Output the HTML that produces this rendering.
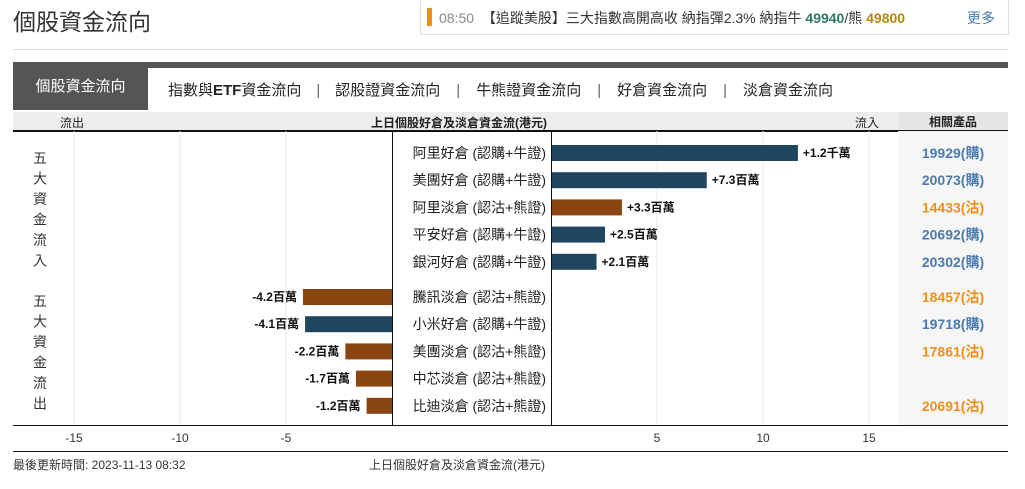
<!DOCTYPE html>
<html><head><meta charset="utf-8"><style>
body{margin:0;width:1025px;height:489px;background:#fff;font-family:"Liberation Sans","Noto Sans CJK TC",sans-serif;position:relative;overflow:hidden}
.abs{position:absolute}
</style></head><body>
<div class="abs" style="left:13px;top:3px;font-size:23px;color:#333">個股資金流向</div>
<div class="abs" style="left:420px;top:0;width:587px;height:34px;border:1px solid #ddd;border-top:none;font-size:14px;color:#333">
 <div class="abs" style="left:6px;top:8px;width:5px;height:18px;background:#e8901a"></div>
 <div class="abs" style="left:18px;top:8px;white-space:nowrap"><span style="color:#888">08:50</span>&nbsp;&nbsp;【追蹤美股】三大指數高開高收 納指彈2.3% 納指牛 <b style="color:#2a7a6a">49940</b>/熊 <b style="color:#b8860b">49800</b></div>
 <div class="abs" style="left:546px;top:8px;color:#4a7bb0">更多</div>
</div>
<div class="abs" style="left:13px;top:49px;width:995px;height:1px;background:#ddd"></div>
<div class="abs" style="left:13px;top:62px;width:995px;height:6px;background:#555"></div>
<div class="abs" style="left:13px;top:62px;width:135px;height:48px;background:#555;color:#fff;font-size:15px;line-height:50px;text-align:center">個股資金流向</div>
<div class="abs" style="left:168px;top:79px;font-size:15px;color:#222;white-space:nowrap;word-spacing:0">
<span>指數與<b>ETF</b>資金流向</span><span style="margin:0 15px;color:#666">|</span><span>認股證資金流向</span><span style="margin:0 16px;color:#666">|</span><span>牛熊證資金流向</span><span style="margin:0 16px;color:#666">|</span><span>好倉資金流向</span><span style="margin:0 16px;color:#666">|</span><span>淡倉資金流向</span></div>
<div class="abs" style="left:13px;top:112px;width:995px;height:18px;background:#eee;border-bottom:2px solid #111;font-size:12px;font-weight:bold;color:#222">
 <span class="abs" style="left:47px;top:2px;font-weight:normal">流出</span>
 <span class="abs" style="left:358px;top:2px">上日個股好倉及淡倉資金流(港元)</span>
 <span class="abs" style="left:842px;top:2px;font-weight:normal">流入</span>
 <span class="abs" style="left:885px;top:0;width:110px;height:18px;background:#e6e6e6;text-align:center;line-height:20px">相關產品</span>
</div>
<svg class="abs" style="left:0;top:0" width="1025" height="489" id="chart"></svg>
<div class="abs" style="left:13px;top:456px;font-size:12px;color:#333">最後更新時間: 2023-11-13 08:32</div>
<div class="abs" style="left:369px;top:456px;font-size:12px;color:#333">上日個股好倉及淡倉資金流(港元)</div>
<script>
const inNames=["阿里好倉 (認購+牛證)","美團好倉 (認購+牛證)","阿里淡倉 (認沽+熊證)","平安好倉 (認購+牛證)","銀河好倉 (認購+牛證)"];
const inValues=[11.6,7.3,3.3,2.5,2.1];
const inLabels=["+1.2千萬","+7.3百萬","+3.3百萬","+2.5百萬","+2.1百萬"];
const inTypes=["bull","bull","bear","bull","bull"];
const inProducts=["19929(購)","20073(購)","14433(沽)","20692(購)","20302(購)"];
const outNames=["騰訊淡倉 (認沽+熊證)","小米好倉 (認購+牛證)","美團淡倉 (認沽+熊證)","中芯淡倉 (認沽+熊證)","比迪淡倉 (認沽+熊證)"];
const outValues=[-4.2,-4.1,-2.2,-1.7,-1.2];
const outLabels=["-4.2百萬","-4.1百萬","-2.2百萬","-1.7百萬","-1.2百萬"];
const outTypes=["bear","bull","bear","bear","bear"];
const outProducts=["18457(沽)","19718(購)","17861(沽)","","20691(沽)"];
const leftTicks=[-15,-10,-5];
const rightTicks=[5,10,15];
const svg=document.getElementById('chart');const NS="http://www.w3.org/2000/svg";
function mk(t,a,txt){const e=document.createElementNS(NS,t);for(const k in a)e.setAttribute(k,a[k]);if(txt!=null)e.textContent=txt;svg.appendChild(e);return e;}
const xL=v=>392+v*21.2, xR=v=>551+v*21.2;
const yTop=131,yBot=425;
const rowY=(g,i)=>(g===0?153:297)+i*27.2;
const col={bull:"#1f4560",bear:"#8b4513"};
let r=mk('rect',{x:898,y:yTop,width:110,height:yBot-yTop,fill:'#f6f6f6'});


leftTicks.forEach(t=>{let l=mk('line',{x1:xL(t),x2:xL(t),y1:yTop,y2:yBot,stroke:'#e8e8e8'});
 
 
 let tx=mk('text',{x:xL(t),y:442,'font-size':12,'text-anchor':'middle',fill:'#333'},String(t));
 
 });
rightTicks.forEach(t=>{let l=mk('line',{x1:xR(t),x2:xR(t),y1:yTop,y2:yBot,stroke:'#e8e8e8'});
 
 
 let tx=mk('text',{x:xR(t),y:442,'font-size':12,'text-anchor':'middle',fill:'#333'},String(t));
 
 });
mk('line',{x1:392.5,x2:392.5,y1:yTop,y2:yBot,stroke:'#111'});
mk('line',{x1:551.5,x2:551.5,y1:yTop,y2:yBot,stroke:'#111'});
mk('line',{x1:13,x2:1008,y1:yBot+0.5,y2:yBot+0.5,stroke:'#111'});
mk('line',{x1:13,x2:1008,y1:451.5,y2:451.5,stroke:'#111'});
function group(g,names,vals,labels,types,prods){
 names.forEach((n,i)=>{const y=rowY(g,i);
  let t=mk('text',{x:546,y:y+5,'font-size':14,'text-anchor':'end',fill:'#222'},n);
  
  
  const v=vals[i];let b,l;
  if(v>=0){b=mk('rect',{x:xR(0)+1,y:y-8,width:xR(v)-xR(0),height:16,fill:col[types[i]]});
   l=mk('text',{x:xR(v)+6,y:y+4,'font-size':12,'font-weight':'bold',fill:'#111'},labels[i]);}
  else{b=mk('rect',{x:xL(v),y:y-8,width:xL(0)-xL(v),height:16,fill:col[types[i]]});
   l=mk('text',{x:xL(v)-6,y:y+4,'font-size':12,'font-weight':'bold','text-anchor':'end',fill:'#111'},labels[i]);}
  
  
  
  
  if(prods[i]){let p=mk('text',{x:953,y:y+5,'font-size':14,'font-weight':'bold','text-anchor':'middle',fill:prods[i].includes('購')?'#4a7bb0':'#f0901a'},prods[i]);
   
   }
 });
}
group(0,inNames,inValues,inLabels,inTypes,inProducts);
group(1,outNames,outValues,outLabels,outTypes,outProducts);
["五大資金流入","五大資金流出"].forEach((s,g)=>{[...s].forEach((c,k)=>{let t=mk('text',{x:40,y:(g===0?163:306)+k*20.5,'font-size':14,'text-anchor':'middle',fill:'#333'},c);
 
 });});
</script>
</body></html>
